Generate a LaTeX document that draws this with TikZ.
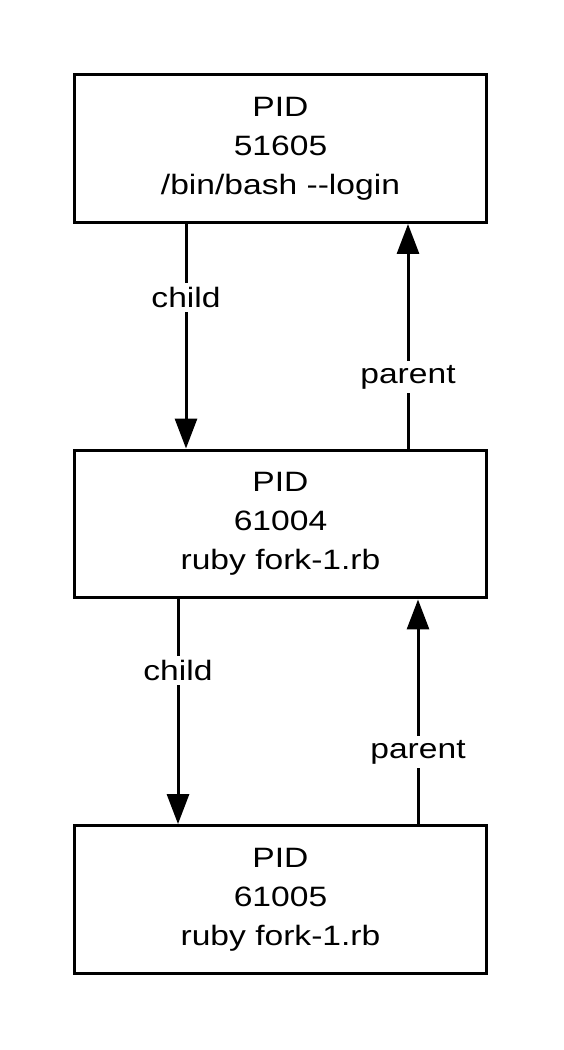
\documentclass[tikz,border=0pt]{standalone}
\usepackage{fontspec}
\setmainfont[FakeStretch=1.2]{Liberation Sans}
\usetikzlibrary{arrows.meta}
\begin{document}
\begin{tikzpicture}[x=1pt,y=1pt,
  box/.style={draw, line width=3.4pt, minimum width=411.6pt, minimum height=147.5pt, align=center, inner sep=0pt, font=\fontsize{28}{39}\selectfont},
  arr/.style={line width=3pt, -{Triangle[length=30pt,width=22pt]}},
  lbl/.style={fill=white, inner sep=4pt, font=\fontsize{28}{34}\selectfont}]
\useasboundingbox (0,0) rectangle (563,-1050);
\node[box] (b1) at (280.5,-148.5) {PID\\51605\\/bin/bash -\kern0pt-login};
\node[box] (b2) at (280.5,-524) {PID\\61004\\ruby fork-1.rb};
\node[box] (b3) at (280.5,-899.5) {PID\\61005\\ruby fork-1.rb};
\draw[arr] ([xshift=-94.5pt]b1.south) -- node[lbl, pos=0.327] (c1) {child} ([xshift=-94.5pt]b2.north);
\draw[arr] ([xshift=127.5pt]b2.north) -- node[lbl, pos=0.318] (p1) {parent} ([xshift=127.5pt]b1.south);
\draw[arr] ([xshift=-102.5pt]b2.south) -- node[lbl, pos=0.316] (c2) {child} ([xshift=-102.5pt]b3.north);
\draw[arr] ([xshift=137.5pt]b3.north) -- node[lbl, pos=0.32] (p2) {parent} ([xshift=137.5pt]b2.south);
\end{tikzpicture}
\end{document}
